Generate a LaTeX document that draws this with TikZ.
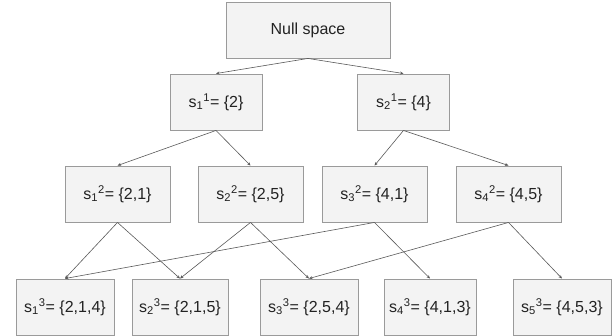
\documentclass[tikz,border=0pt]{standalone}
\usepackage{fontspec}
\setmainfont{Liberation Sans}
\usetikzlibrary{arrows.meta}
\definecolor{boxfill}{HTML}{F3F3F3}
\definecolor{boxline}{HTML}{9A9A9A}
\definecolor{edgecol}{HTML}{595959}
\definecolor{txtcol}{HTML}{222222}
\newcommand{\st}[3]{s\textsubscript{#1}\textsuperscript{#2}= \{#3\}}

\begin{document}
\begin{tikzpicture}[x=1pt,y=1pt,>={Stealth[length=3.5pt,width=3pt]},
  state/.style={draw=boxline,line width=0.9pt,fill=boxfill,text=txtcol,
    minimum height=56pt,inner sep=0pt,font=\fontsize{16}{19}\selectfont},
  edge/.style={draw=edgecol,line width=0.6pt,->}]
  \useasboundingbox (0,0) rectangle (615,336);
  % ---- root ----
  \node[state,minimum width=164pt] (root) at (308,306) {Null space};
  % ---- first step ----
  \node[state,minimum width=92pt] (s11) at (216,234) {\st{1}{1}{2}};
  \node[state,minimum width=92pt] (s21) at (403.5,234) {\st{2}{1}{4}};
  % ---- second step ----
  \node[state,minimum width=105pt] (s12) at (117.5,142) {\st{1}{2}{2,1}};
  \node[state,minimum width=105pt] (s22) at (250.5,142) {\st{2}{2}{2,5}};
  \node[state,minimum width=105pt] (s32) at (374.5,142) {\st{3}{2}{4,1}};
  \node[state,minimum width=105pt] (s42) at (508.5,142) {\st{4}{2}{4,5}};
  % ---- third step ----
  \node[state,minimum width=98pt] (s13) at (65,29) {\st{1}{3}{2,1,4}};
  \node[state,minimum width=96pt] (s23) at (180,29) {\st{2}{3}{2,1,5}};
  \node[state,minimum width=98pt] (s33) at (309,29) {\st{3}{3}{2,5,4}};
  \node[state,minimum width=92pt] (s43) at (430,29) {\st{4}{3}{4,1,3}};
  \node[state,minimum width=98pt] (s53) at (562,29) {\st{5}{3}{4,5,3}};
  % ---- links ----
  \foreach \a/\b in {root/s11,root/s21,s11/s12,s11/s22,s21/s32,s21/s42,
    s12/s13,s12/s23,s22/s23,s22/s33,s32/s13,s32/s43,s42/s33,s42/s53}
    \draw[edge] (\a.south) -- (\b.north);
\end{tikzpicture}
\end{document}
